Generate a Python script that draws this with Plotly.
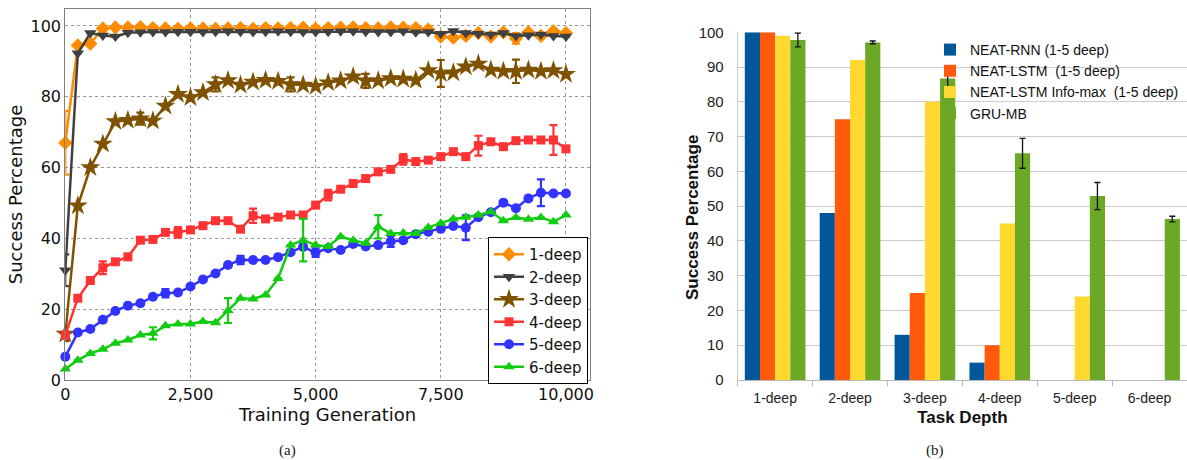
import plotly.graph_objects as go

# ---------------- Panel (a): learning curves ----------------
generations = list(range(0, 10001, 250))

deep1 = [67, 94.5, 95, 99.3, 99.6, 99.6, 99.7, 99.4, 99.3, 99.2, 99.3, 99.3, 99.2, 99.3, 99.4, 99.2, 99.4,
         99.3, 99.4, 99.5, 99.2, 99.4, 99.5, 99.6, 99.4, 99.3, 99.6, 99.5, 99.4, 99.0, 97.0, 96.7, 97.2,
         98.0, 97.0, 98.2, 96.5, 98.2, 97.2, 98.5, 98.0]
deep2 = [31, 92.3, 98.0, 97.3, 97.0, 98.1, 98.2, 98.3, 98.3, 98.4, 98.4, 98.3, 98.4, 98.5, 98.4, 98.3, 98.4,
         98.5, 98.4, 98.3, 98.3, 98.4, 98.5, 98.5, 98.4, 98.3, 98.3, 98.5, 98.2, 98.3, 97.8, 98.6, 98.0,
         97.8, 97.6, 98.0, 97.2, 97.4, 97.6, 97.2, 97.0]
deep3 = [13, 49.2, 60, 66.7, 73, 73.4, 73.8, 73.2, 77.4, 80.7, 79.8, 81.2, 83.5, 84.6, 83.3, 84.2, 84.7,
         84.4, 83.5, 83.3, 83.0, 84.0, 84.5, 85.7, 84.5, 84.5, 85.2, 85.0, 84.7, 87.4, 86.6, 86.8, 88.5,
         89.3, 87.6, 87.2, 87.2, 87.6, 87.2, 87.4, 86.4]
deep4 = [12.7, 23.1, 28.1, 31.7, 33.4, 34.8, 39.5, 39.7, 41.7, 41.7, 42.4, 43.6, 45.0, 45.0, 42.6, 46.4,
         45.5, 46.0, 46.6, 46.6, 49.4, 52.2, 53.9, 55.5, 56.9, 58.8, 59.5, 62.3, 61.7, 62.1, 63.1, 64.5,
         63.1, 66.2, 67.3, 65.9, 67.6, 67.8, 67.8, 67.8, 65.3]
deep5 = [6.6, 13.4, 14.4, 17.0, 19.5, 21.0, 21.7, 23.5, 24.5, 24.7, 26.4, 28.4, 30.1, 32.5, 33.9, 33.9,
         33.9, 34.7, 36.1, 37.6, 36.0, 37.2, 36.7, 38.4, 37.7, 38.1, 39.1, 39.5, 41.2, 41.9, 42.7, 43.5,
         43.0, 46.0, 47.4, 50.1, 48.5, 51.3, 52.9, 52.7, 52.7]
deep6 = [3.1, 5.6, 7.5, 8.7, 10.4, 11.3, 12.7, 13.2, 15.3, 15.8, 15.8, 16.5, 16.2, 19.6, 23.1, 22.9, 24.0,
         28.7, 38.1, 39.5, 38.1, 37.7, 40.5, 39.5, 38.6, 43.3, 41.4, 41.5, 41.4, 43.1, 44.3, 45.5, 46.0,
         46.6, 47.5, 45.0, 45.9, 45.4, 45.9, 44.7, 46.6]

err1 = [9, 0, 0, 0, 0, 0, 0, 0, 0, 0, 0, 0, 0, 0, 0, 0, 0, 0, 0, 0, 0, 0, 0, 0, 0, 0, 0, 0, 0, 0, 0, 0, 0,
        0, 0, 0, 1.5, 0, 0, 0, 0]
err2 = [4.5, 0, 0, 0, 0, 0, 0, 0, 0, 0, 0, 0, 0, 0, 0, 0, 0, 0, 0, 0, 0, 0, 0, 0, 0, 0, 0, 0, 0, 0, 0, 0,
        0, 0, 0, 0, 0, 0, 0, 0, 0]
err3 = [2, 0, 0, 0, 0, 0, 1.7, 0, 0, 0, 0, 0, 2, 0, 0, 0, 0, 0, 2, 0, 0, 0, 0, 0, 2, 0, 0, 0, 0, 0, 3.8,
        0, 0, 0, 0, 0, 3.3, 0, 0, 0, 0]
err4 = [1, 0, 0, 1.8, 0, 0, 0, 0, 0, 1.5, 0, 0, 0, 0, 0, 2, 0, 0, 0, 0, 0, 1.5, 0, 0, 0, 0, 0, 1.5, 0, 0,
        0, 0, 0, 2.8, 0, 0, 0, 0, 0, 4.2, 0]
err5 = [0, 0, 0, 0, 0, 0, 0, 0, 1.2, 0, 0, 0, 0, 0, 1.2, 0, 0, 0, 0, 0, 1.2, 0, 0, 0, 0, 0, 1.5, 0, 0, 0,
        0, 0, 3.5, 0, 0, 0, 0, 0, 3.8, 0, 0]
err6 = [0, 0, 0, 0, 0, 0, 0, 1.7, 0, 0, 0, 0, 0, 3.5, 0, 0, 0, 0, 0, 6, 0, 0, 0, 0, 0, 3.3, 0, 0, 0, 0,
        0, 0, 0, 0, 0, 0, 0, 0, 0, 0, 0]

line_names = ["1-deep", "2-deep", "3-deep", "4-deep", "5-deep", "6-deep"]
line_colors = ["#FF8C00", "#404040", "#7F5200", "#FF3333", "#3333FF", "#11CC11"]
line_symbols = ["diamond", "triangle-down", "star", "square", "circle", "triangle-up"]
line_sizes = [11, 11, 15, 9, 10, 10]
x_ticks = [0, 2500, 5000, 7500, 10000]
x_ticklabels = ["0", "2,500", "5,000", "7,500", "10,000"]

# ---------------- Panel (b): bar chart ----------------
depths = ["1-deep", "2-deep", "3-deep", "4-deep", "5-deep", "6-deep"]
bar_names = ["NEAT-RNN (1-5 deep)", "NEAT-LSTM  (1-5 deep)", "NEAT-LSTM Info-max  (1-5 deep)", "GRU-MB"]
neat_rnn = [100, 48, 13, 5, None, None]
neat_lstm = [100, 75, 25, 10, None, None]
neat_infomax = [99, 92, 80, 45, 24, None]
gru_mb = [97.8, 97.1, 86.7, 65.2, 52.9, 46.3]
gru_mb_err = [2.0, 0.4, 3.2, 4.3, 3.9, 0.8]
bar_colors = ["#00579A", "#FF5A0C", "#FFD830", "#6BA826"]

fig = go.Figure()

series = [deep1, deep2, deep3, deep4, deep5, deep6]
errs = [err1, err2, err3, err4, err5, err6]
for name, ys, er, col, sym, sz in zip(line_names, series, errs, line_colors, line_symbols, line_sizes):
    fig.add_trace(go.Scatter(
        x=generations, y=ys, name=name, mode="lines+markers",
        line=dict(color=col, width=2.5),
        marker=dict(symbol=sym, size=sz, color=col, line=dict(width=0)),
        error_y=dict(type="data", array=er, color=col, thickness=2.2, width=4),
        cliponaxis=False,
        xaxis="x", yaxis="y", legend="legend",
    ))

for name, vals, col in zip(bar_names, [neat_rnn, neat_lstm, neat_infomax, gru_mb], bar_colors):
    kw = {}
    if name == "GRU-MB":
        kw["error_y"] = dict(type="data", array=gru_mb_err, color="#111111", thickness=1.3, width=3)
    fig.add_trace(go.Bar(
        x=depths, y=vals, name=name, marker=dict(color=col, line=dict(width=0)),
        xaxis="x2", yaxis="y2", legend="legend2", **kw,
    ))

W, H = 1187, 460
left_font = "DejaVu Sans"
right_font = "Liberation Sans, Arial"

fig.update_layout(
    width=W, height=H,
    margin=dict(l=0, r=0, t=0, b=0, autoexpand=False),
    paper_bgcolor="white", plot_bgcolor="white",
    barmode="group", bargap=0.19, bargroupgap=0,
    xaxis=dict(
        domain=[65.3 / W, 590 / W], range=[0, 10480], anchor="y", automargin=False,
        tickvals=x_ticks, ticktext=x_ticklabels, ticks="",
        tickfont=dict(family=left_font, size=16, color="#111"),
        showgrid=True, gridcolor="#9a9a9a", griddash="dot", gridwidth=1,
        showline=True, linecolor="#808080", linewidth=1.2, mirror=True, zeroline=False,
        title=dict(text="Training Generation", font=dict(family=left_font, size=18, color="#111"), standoff=3),
    ),
    yaxis=dict(
        domain=[1 - 380 / H, 1 - 9 / H], range=[0, 104.8], anchor="x", automargin=False,
        tickvals=[0, 20, 40, 60, 80, 100], ticks="",
        tickfont=dict(family=left_font, size=16, color="#111"),
        showgrid=True, gridcolor="#9a9a9a", griddash="dot", gridwidth=1,
        showline=True, linecolor="#808080", linewidth=1.2, mirror=True, zeroline=False,
        title=dict(text="Success Percentage", font=dict(family=left_font, size=18, color="#111"), standoff=3),
    ),
    xaxis2=dict(
        domain=[737.7 / W, 1.0], anchor="y2", type="category", automargin=False,
        tickson="boundaries", ticks="outside", ticklen=5, tickcolor="#b8b8b8", ticklabelstandoff=5,
        tickfont=dict(family=right_font, size=14, color="#222"),
        showgrid=False, showline=True, linecolor="#b8b8b8", linewidth=1,
        title=dict(text="Task Depth", font=dict(family=right_font, size=17, color="#111", weight="bold"), standoff=6),
    ),
    yaxis2=dict(
        domain=[1 - 380 / H, 1 - 32.3 / H], range=[0, 100], anchor="x2", automargin=False,
        dtick=10, ticks="", ticklabelstandoff=10,
        tickfont=dict(family=right_font, size=15, color="#222"),
        showgrid=True, gridcolor="#cccccc", gridwidth=1,
        showline=True, linecolor="#cccccc", zeroline=False,
    ),
    legend=dict(
        x=488 / W, y=1 - 237 / H, xanchor="left", yanchor="top",
        bgcolor="white", bordercolor="black", borderwidth=1,
        font=dict(family=left_font, size=15, color="#111"),
        tracegroupgap=0,
    ),
    legend2=dict(
        x=930 / W, y=1 - 34 / H, xanchor="left", yanchor="top",
        bgcolor="rgba(0,0,0,0)", borderwidth=0,
        font=dict(family=right_font, size=14, color="#111"),
        tracegroupgap=0,
    ),
    annotations=[
        dict(text="Success Percentage", x=693 / W, y=1 - 218 / H, xref="paper", yref="paper",
             showarrow=False, textangle=-90, xanchor="center", yanchor="middle",
             font=dict(family=right_font, size=17, color="#111", weight="bold")),
        dict(text="(a)", x=287 / W, y=1 - 450 / H, xref="paper", yref="paper", showarrow=False,
             xanchor="center", yanchor="middle",
             font=dict(family="Liberation Serif", size=15, color="#222")),
        dict(text="(b)", x=935 / W, y=1 - 450 / H, xref="paper", yref="paper", showarrow=False,
             xanchor="center", yanchor="middle",
             font=dict(family="Liberation Serif", size=15, color="#222")),
    ],
)

fig.write_html("out.html", config={"displayModeBar": False},
               post_script="document.body.style.margin='0';document.body.style.overflow='hidden';")
